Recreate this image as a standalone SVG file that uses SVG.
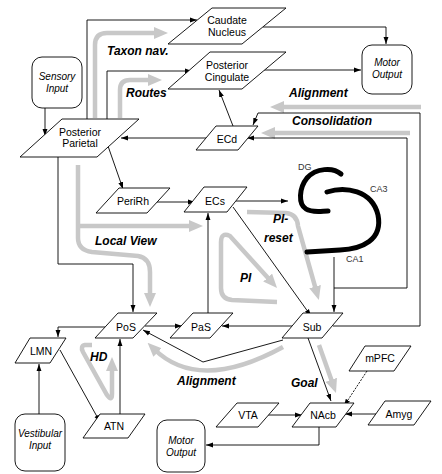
<svg xmlns="http://www.w3.org/2000/svg" width="442" height="474" viewBox="0 0 442 474">
<style>
.n{fill:#fff;stroke:#000;stroke-width:0.9}
.t{font-family:"Liberation Sans",Arial,sans-serif;font-size:10.5px;fill:#000;text-anchor:middle}
.ti{font-family:"Liberation Sans",Arial,sans-serif;font-size:10px;font-style:italic;fill:#000;text-anchor:middle}
.c{fill:none;stroke:#000;stroke-width:0.9;marker-end:url(#ah)}
.g{fill:none;stroke:#c8c8c8;stroke-width:4.5;marker-end:url(#gh)}
.lb{font-family:"Liberation Sans",Arial,sans-serif;font-size:12px;font-weight:bold;font-style:italic;fill:#000}
.hc{fill:none;stroke:#000;stroke-width:5;stroke-linecap:round}
.hl{font-family:"Liberation Sans",Arial,sans-serif;font-size:9px;fill:#333}
</style>
<defs>
<marker id="ah" viewBox="0 0 10 10" refX="10" refY="5" markerWidth="7" markerHeight="7" markerUnits="userSpaceOnUse" orient="auto"><path d="M0,1.5 L10,5 L0,8.5z" fill="#000"/></marker>
<marker id="gh" viewBox="0 0 14 12" refX="5" refY="6" markerWidth="14" markerHeight="12" markerUnits="userSpaceOnUse" orient="auto"><path d="M0,0 L14,6 L0,12z" fill="#c8c8c8"/></marker>
</defs>
<rect width="442" height="474" fill="#fff"/>

<g id="gray-arrows">
<path class="g" d="M95,118 V45 Q95,33 107,33 H159"/>
<path class="g" d="M120,118 V90 Q120,80 130,80 H153"/>
<path class="g" d="M421,107 H279"/>
<path class="g" d="M410,133 H270"/>
<path class="g" d="M78,165 V238 Q78,250 92,252 L138,256 Q150,258 150,272 V298"/>
<path class="g" d="M80,226 H194"/>
<path class="g" d="M247,212 L286,213 Q297,214 298,226 L316.4,291.4"/>
<path class="g" d="M277,302 L232,300 Q221,299 221,288 V242 Q221,232 230,236 L271,281.3"/>
<path class="g" d="M92,345 L85,345 Q80,346 83,352 L107,395 Q112,402 112,394 V366"/>
<path class="g" d="M283,347 Q199,393 154,349"/>
<path class="g" d="M319,345 L333,384.5"/>
</g>

<g id="gray-labels">
<text class="lb" x="107" y="55">Taxon nav.</text>
<text class="lb" x="126" y="97">Routes</text>
<text class="lb" x="289" y="97">Alignment</text>
<text class="lb" x="292" y="125">Consolidation</text>
<text class="lb" x="95" y="245">Local View</text>
<text class="lb" x="273" y="223">PI-</text>
<text class="lb" x="264" y="242">reset</text>
<text class="lb" x="240" y="282">PI</text>
<text class="lb" x="90" y="361">HD</text>
<text class="lb" x="177" y="385">Alignment</text>
<text class="lb" x="291" y="387">Goal</text>
</g>

<g id="connectors">
<path class="c" d="M87,119 V20 H197"/>
<path class="c" d="M107,119 V71 H192"/>
<path class="c" d="M263,27 H386 V44"/>
<path class="c" d="M264,70 H361"/>
<path class="c" d="M233,126 L219,90"/>
<path class="c" d="M206,138 H121"/>
<path class="c" d="M333,326 H420 V113 H258 L253,125"/>
<path class="c" d="M334,257 V312"/>
<path class="c" d="M334,288 H407 V138 H247"/>
<path class="c" d="M145,326 H182"/>
<path class="c" d="M292,326 H222"/>
<path class="c" d="M105,327 H58 V337"/>
<path class="c" d="M283,340 L203,362 L143,330"/>
<path class="c" d="M208,313 V213"/>
<path class="c" d="M157,202 H195"/>
<path class="c" d="M236,201 H288"/>
<path class="c" d="M233,207 L311,316"/>
<path class="c" d="M58,157 V264 H133 V312"/>
<path class="c" d="M108,146 L123,189"/>
<path class="c" d="M60,350 L100,422"/>
<path class="c" d="M120,414 V339"/>
<path class="c" d="M39,414 V364"/>
<path class="c" d="M45,108 V136"/>
<path class="c" d="M308,338 L331,401"/>
<path class="c" d="M367,371 L344,406" stroke-dasharray="2 1.3"/>
<path class="c" d="M268,415 H302"/>
<path class="c" d="M376,414 H345"/>
<path class="c" d="M319,427 V445 H206"/>
</g>

<g id="hippocampus">
<path class="hc" d="M341,174 C333,167 316,168 307,178 C299,188 298,204 306,209 C312,213 322,211 328,211"/>
<path class="hc" d="M327,192 C345,186 372,190 378,215 C383,240 362,249 340,250 L307,252"/>
<text class="hl" x="298" y="170">DG</text>
<text class="hl" x="370" y="192">CA3</text>
<text class="hl" x="346" y="262">CA1</text>
</g>

<g id="caudate"><polygon class="n" points="212,8 286,8 242,44 168,44"/><text class="t" x="227" y="24">Caudate</text><text class="t" x="227" y="36">Nucleus</text></g>
<g id="cingulate"><polygon class="n" points="210,52 286,52 242,89 168,89"/><text class="t" x="227" y="69">Posterior</text><text class="t" x="227" y="81">Cingulate</text></g>
<g id="motor-top"><rect class="n" x="362" y="45" width="50" height="49" rx="10"/><text class="ti" x="387" y="66">Motor</text><text class="ti" x="387" y="78">Output</text></g>
<g id="sensory"><rect class="n" x="32" y="57" width="50" height="51" rx="10"/><text class="ti" x="57" y="80">Sensory</text><text class="ti" x="57" y="92">Input</text></g>
<g id="parietal"><polygon class="n" points="62,119 139,119 97,157 20,157"/><text class="t" x="80" y="136">Posterior</text><text class="t" x="80" y="147">Parietal</text></g>
<g id="ecd"><polygon class="n" points="216,126 258,126 238,150 196,150"/><text class="t" x="227" y="143">ECd</text></g>
<g id="perirh"><polygon class="n" points="119,188 170,188 147,213 96,213"/><text class="t" x="133" y="205">PeriRh</text></g>
<g id="ecs"><polygon class="n" points="204,187 247,187 227,212 184,212"/><text class="t" x="215" y="205">ECs</text></g>
<g id="pos"><polygon class="n" points="118,313 157,313 133,338 95,338"/><text class="t" x="126" y="331">PoS</text></g>
<g id="pas"><polygon class="n" points="193,313 233,313 210,338 170,338"/><text class="t" x="201" y="331">PaS</text></g>
<g id="sub"><polygon class="n" points="303,313 343,313 322,338 282,338"/><text class="t" x="312" y="331">Sub</text></g>
<g id="lmn"><polygon class="n" points="30,338 66,338 50,363 15,363"/><text class="t" x="41" y="355">LMN</text></g>
<g id="atn"><polygon class="n" points="100,414 145,414 128,438 83,438"/><text class="t" x="114" y="430">ATN</text></g>
<g id="vestibular"><rect class="n" x="15" y="414" width="50" height="57" rx="10"/><text class="ti" x="40" y="437">Vestibular</text><text class="ti" x="40" y="449">Input</text></g>
<g id="motor-bottom"><rect class="n" x="157" y="420" width="48" height="52" rx="10"/><text class="ti" x="181" y="444">Motor</text><text class="ti" x="181" y="456">Output</text></g>
<g id="vta"><polygon class="n" points="237,403 279,403 258,427 216,427"/><text class="t" x="248" y="419">VTA</text></g>
<g id="nacb"><polygon class="n" points="310,403 354,403 336,427 292,427"/><text class="t" x="323" y="419">NAcb</text></g>
<g id="amyg"><polygon class="n" points="385,401 431,401 414,425 368,425"/><text class="t" x="399" y="418">Amyg</text></g>
<g id="mpfc"><polygon class="n" points="365,346 411,346 394,371 349,371"/><text class="t" x="380" y="362">mPFC</text></g>
</svg>
